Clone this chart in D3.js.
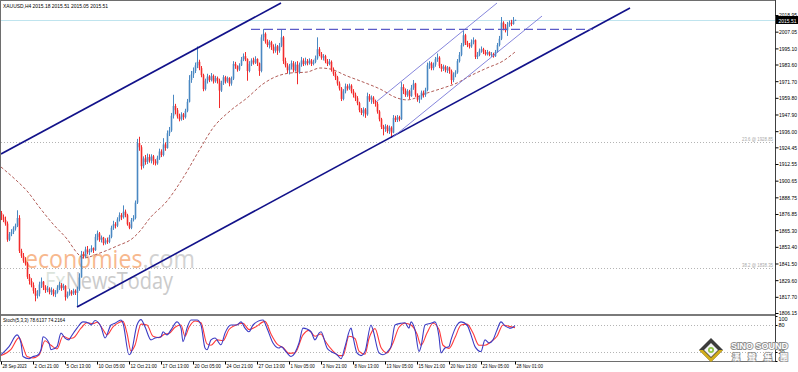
<!DOCTYPE html>
<html lang="en">
<head>
  <meta charset="UTF-8">
  <title>XAUUSD H4</title>
  <style>
    body { margin: 0; background: #fff; }
    svg { display: block; font-family: "DejaVu Sans", sans-serif; }
  </style>
</head>
<body>
<svg width="798" height="372"></svg>
<script src="https://cdn.jsdelivr.net/npm/d3@7"></script>
<script>
  // H4 candles, 28 Sep 2023 05:00 .. 28 Nov 2023 01:00 (open = previous close)
  var firstOpen = 1877.5;
  var closes = [
    1874.8,1872.6,1870.0,1858.5,1862.5,1864.0,1866.5,1868.5,1874.0,1850.5,
    1847.0,1843.5,1841.5,1832.0,1829.0,1826.0,1822.0,1818.5,1820.0,1826.5,
    1828.5,1824.5,1822.5,1823.5,1821.0,1822.5,1819.5,1821.0,1823.5,1826.0,
    1824.0,1825.5,1817.5,1819.5,1821.5,1820.0,1822.0,1820.5,1823.5,1831.5,
    1848.0,1846.5,1851.5,1849.5,1850.5,1852.5,1851.0,1860.5,1863.0,1858.5,
    1860.0,1856.0,1858.0,1857.0,1860.5,1867.0,1869.5,1868.5,1873.0,1876.0,
    1874.5,1878.5,1876.0,1869.5,1867.0,1872.5,1874.0,1885.0,1927.5,1924.5,
    1911.0,1916.5,1914.0,1917.5,1915.0,1918.0,1914.5,1913.0,1917.0,1921.5,
    1919.0,1926.5,1924.0,1934.5,1936.5,1947.0,1954.0,1951.0,1946.5,1944.5,
    1948.0,1946.0,1950.5,1957.0,1972.5,1976.5,1979.0,1983.0,1985.5,1981.0,
    1976.0,1966.0,1972.0,1975.0,1972.5,1975.5,1971.5,1974.0,1972.0,1965.0,
    1970.5,1974.5,1971.5,1974.0,1970.0,1973.5,1984.0,1982.5,1980.0,1983.0,
    1987.0,1989.5,1987.5,1979.0,1984.0,1986.5,1985.0,1987.5,1984.5,1979.0,
    2003.0,2005.5,2000.0,1997.5,1999.5,1996.0,1993.5,1996.5,1993.5,1997.0,
    2003.0,1986.0,1983.0,1979.5,1982.0,1984.5,1979.5,1983.5,1978.0,1983.5,
    1986.5,1984.0,1986.0,1984.5,1986.5,1984.0,1985.5,1988.0,1994.5,1991.0,
    1988.5,1989.5,1986.0,1984.0,1985.5,1980.0,1977.0,1974.5,1970.0,1966.5,
    1959.0,1964.5,1968.0,1966.5,1968.5,1964.5,1962.0,1959.5,1956.0,1951.0,
    1949.0,1951.5,1948.0,1961.0,1958.5,1960.0,1957.0,1955.5,1950.0,1944.5,
    1939.0,1937.5,1939.5,1936.0,1938.5,1935.0,1945.5,1944.0,1946.0,1944.5,
    1967.5,1965.0,1962.0,1964.5,1961.0,1967.0,1970.0,1962.0,1958.5,1960.0,
    1963.5,1962.0,1965.5,1983.0,1984.5,1981.0,1983.5,1987.5,1988.5,1982.5,
    1980.5,1982.0,1979.5,1981.5,1979.0,1972.5,1976.5,1978.0,1986.0,1990.5,
    1997.5,2004.5,1999.0,1997.5,1996.5,1999.5,2001.0,1989.0,1990.5,1993.5,
    1994.5,1992.5,1991.0,1992.5,1990.5,1991.0,1989.5,1992.5,1997.5,2002.0,
    2013.5,2010.0,2008.0,2012.0,2013.5,2012.5,2015.18,2015.51
  ];
  var highs = [
    1879.0,1876.5,1875.0,1871.5,1864.0,1866.0,1868.0,1870.0,1879.5,1876.0,
    1852.0,1849.0,1846.0,1842.5,1834.0,1831.0,1828.0,1824.0,1822.5,1828.5,
    1831.5,1829.0,1826.0,1825.5,1824.5,1824.5,1823.5,1822.5,1826.0,1828.5,
    1827.5,1827.0,1826.0,1821.5,1823.5,1822.5,1823.5,1823.0,1825.0,1834.5,
    1850.5,1850.0,1853.5,1854.0,1852.0,1854.5,1853.0,1862.5,1865.0,1864.0,
    1861.5,1860.5,1859.5,1860.0,1862.0,1868.5,1872.0,1871.0,1874.5,1878.0,
    1877.5,1883.0,1880.0,1877.0,1871.0,1874.0,1876.0,1886.5,1930.5,1932.0,
    1926.0,1918.0,1919.0,1920.0,1919.5,1919.5,1919.0,1916.0,1918.5,1923.5,
    1923.0,1931.0,1928.0,1936.5,1939.0,1949.0,1962.0,1955.5,1952.5,1948.5,
    1949.5,1949.0,1952.0,1959.0,1976.0,1979.0,1981.5,1985.0,1996.5,1987.0,
    1982.5,1977.0,1973.5,1977.0,1976.0,1977.5,1976.5,1975.5,1975.0,1973.5,
    1972.0,1976.0,1975.5,1975.0,1974.5,1975.0,1986.0,1985.5,1983.0,1984.5,
    1989.0,1991.5,1992.5,1988.0,1986.0,1988.0,1988.5,1989.5,1988.0,1985.0,
    2005.0,2009.0,2006.5,2001.5,2001.0,2000.5,1998.0,1998.5,1997.5,1999.0,
    2008.5,2004.0,1988.5,1984.5,1984.0,1986.5,1986.0,1985.5,1986.0,1985.0,
    1989.0,1988.0,1988.5,1987.5,1988.0,1987.5,1987.0,1990.0,2003.0,1996.0,
    1992.5,1991.0,1990.5,1987.5,1987.5,1986.5,1981.5,1978.5,1975.5,1971.5,
    1967.5,1966.0,1970.0,1969.5,1970.0,1969.5,1966.0,1963.5,1961.0,1957.0,
    1952.5,1953.0,1952.5,1963.5,1962.5,1961.5,1961.0,1958.5,1957.0,1951.0,
    1945.5,1940.5,1941.0,1940.5,1940.0,1939.5,1947.5,1947.0,1947.5,1947.0,
    1971.0,1969.5,1966.5,1966.0,1965.5,1969.0,1972.5,1970.5,1963.0,1961.5,
    1965.0,1965.0,1967.0,1985.0,1986.0,1985.5,1985.0,1989.0,1991.5,1989.5,
    1984.0,1983.5,1983.0,1982.5,1982.0,1980.0,1978.0,1979.5,1987.5,1992.5,
    1999.0,2007.5,2005.5,2000.5,1999.0,2001.5,2003.0,2001.5,1992.5,1995.0,
    1996.5,1995.5,1994.0,1994.0,1993.0,1992.5,1992.0,1994.0,1999.0,2004.0,
    2017.5,2014.5,2012.5,2014.0,2015.0,2015.5,2017.5,2015.51
  ];
  var lows = [
    1872.5,1871.0,1868.5,1857.0,1857.5,1861.0,1862.5,1865.0,1867.5,1849.0,
    1845.5,1842.0,1840.0,1830.5,1826.5,1824.5,1820.0,1814.5,1816.5,1818.0,
    1824.0,1822.5,1820.5,1821.0,1819.5,1819.0,1818.0,1817.5,1820.0,1822.5,
    1822.0,1822.5,1815.0,1816.5,1818.5,1818.5,1819.0,1819.0,1810.8,1822.0,
    1843.0,1845.0,1845.5,1848.0,1847.5,1849.5,1849.0,1850.5,1858.0,1857.0,
    1856.5,1854.5,1855.0,1855.5,1856.0,1859.5,1865.5,1866.5,1867.5,1871.5,
    1872.5,1873.5,1874.5,1868.5,1866.0,1866.0,1871.5,1873.0,1884.0,1922.0,
    1908.5,1909.5,1912.0,1912.5,1913.5,1913.0,1912.0,1911.5,1912.0,1915.5,
    1917.5,1918.0,1922.0,1923.5,1932.5,1935.5,1945.0,1948.0,1945.0,1943.0,
    1943.5,1944.0,1945.0,1949.5,1956.5,1970.5,1974.0,1977.5,1981.0,1979.5,
    1974.5,1964.5,1965.0,1970.0,1971.0,1971.5,1970.0,1970.5,1970.0,1952.5,
    1964.0,1969.0,1970.0,1970.5,1968.0,1968.5,1972.5,1980.5,1978.5,1979.0,
    1982.5,1986.0,1986.0,1972.0,1978.0,1982.5,1983.5,1984.0,1982.5,1975.5,
    1978.0,2000.5,1998.5,1996.0,1995.0,1994.0,1991.5,1992.0,1990.5,1992.0,
    1996.0,1984.0,1981.5,1977.5,1976.5,1980.0,1978.0,1978.5,1969.5,1977.0,
    1982.0,1982.5,1983.0,1983.0,1983.5,1982.5,1983.0,1984.5,1987.0,1989.5,
    1987.0,1986.5,1984.5,1982.5,1983.0,1978.5,1975.5,1972.5,1968.5,1965.0,
    1957.5,1958.0,1963.0,1965.0,1965.5,1963.0,1960.0,1957.5,1954.5,1949.5,
    1947.5,1946.5,1945.5,1947.0,1957.0,1955.5,1955.5,1953.5,1948.5,1943.0,
    1937.5,1933.0,1935.5,1934.5,1934.0,1931.2,1934.5,1942.5,1942.5,1943.0,
    1944.0,1962.5,1960.5,1960.5,1959.0,1960.5,1965.5,1960.5,1957.0,1956.0,
    1958.5,1960.0,1960.5,1964.5,1980.5,1979.5,1979.5,1982.0,1985.5,1981.0,
    1978.5,1979.0,1978.0,1977.5,1977.0,1969.5,1971.0,1974.5,1977.0,1985.0,
    1989.5,1996.5,1997.5,1996.0,1995.0,1995.5,1998.0,1987.5,1987.5,1989.5,
    1992.0,1991.0,1990.0,1990.0,1989.5,1989.0,1988.5,1989.0,1992.0,1996.5,
    2001.0,2008.0,2006.5,2004.0,2010.5,2011.0,2012.0,2015.05
  ];

  // moving average: [bar, price]
  var maPoints = [
    [0,1910.4],[8,1900.4],[13,1893.3],[19.5,1881.1],[26,1869.7],[33,1859.0],
    [38.5,1848.3],[41,1845.4],[49.5,1849.0],[58,1854.0],[66,1859.7],[69.5,1864.7],
    [74.5,1874.0],[83,1886.1],[91,1902.6],[99.5,1923.3],[106,1938.3],[114.5,1950.4],
    [123,1959.7],[131,1969.7],[136,1974.0],[144.5,1977.5],[153,1978.2],[159.5,1981.1],
    [164.5,1980.4],[173,1975.4],[181,1971.1],[189.5,1966.1],[198,1959.7],[203,1958.3],
    [213,1963.2],[221,1966.8],[228,1970.4],[234.5,1975.4],[243,1981.1],[251,1986.1],
    [257,1992.5]
  ];

  // Stoch(5,3,3) main (%K) and signal (%D): [bar, value]
  var stochK = [
    [0,14],[4,32],[8,58],[10,40],[11,10],[14,5],[16,10],[18,12],[20,25],[21,54],
    [24,40],[25,25],[28,32],[30,62],[32,51],[34,47],[35,54],[38,73],[41,87],[44,84],
    [45,80],[47,90],[50,76],[52,51],[55,80],[57,84],[60,91],[61,84],[64,14],[65,18],
    [68,80],[70,92],[72,76],[75,47],[77,51],[80,54],[81,65],[83,58],[85,69],[88,87],
    [90,73],[91,43],[93,73],[95,91],[98,91],[100,80],[102,29],[103,25],[105,47],[107,51],
    [110,36],[112,62],[115,80],[118,80],[120,87],[122,73],[124,65],[126,80],[131,91],[133,73],
    [136,40],[139,29],[140,32],[143,18],[145,10],[149,40],[151,73],[155,65],[157,47],[159,62],
    [160,65],[163,29],[165,21],[168,14],[170,5],[172,32],[175,73],[176,54],[178,18],[180,12],
    [182,21],[185,80],[186,69],[189,18],[191,14],[194,25],[195,32],[197,80],[200,84],[202,85],
    [204,73],[205,87],[207,69],[209,21],[210,32],[212,80],[215,84],[217,87],[219,54],[220,18],
    [222,29],[224,32],[225,47],[228,80],[230,87],[233,80],[235,58],[237,32],[240,21],[242,47],
    [244,40],[246,47],[248,69],[250,87],[252,78],[255,73],[257,78.6]
  ];
  var stochD = [
    [0,12],[5,26],[9,52],[11,32],[13,10],[16,7],[19,13],[22,45],[25,35],[28,27],
    [31,55],[34,50],[36,51],[40,73],[43,85],[46,83],[48,86],[51,70],[53,58],[56,76],
    [58,83],[61,88],[63,62],[65,22],[67,35],[70,82],[73,80],[76,55],[79,52],[82,60],
    [84,61],[87,75],[90,80],[92,55],[94,75],[97,89],[100,85],[103,38],[105,35],[108,47],
    [111,45],[114,70],[117,79],[121,84],[124,70],[127,75],[132,88],[135,60],[138,38],[141,30],
    [144,17],[147,18],[151,58],[154,68],[157,55],[160,60],[162,45],[166,22],[169,12],[171,12],
    [174,55],[177,50],[179,22],[182,15],[184,50],[187,72],[190,30],[193,18],[196,40],[199,75],
    [202,84],[205,80],[208,60],[210,35],[213,62],[216,84],[219,70],[221,35],[224,28],[227,52],
    [230,80],[233,82],[236,62],[239,35],[242,35],[245,43],[248,55],[251,80],[254,77],[257,74.2]
  ];

  var priceTicks = [2018.95,2007.05,1995.10,1983.60,1971.70,1959.80,1947.90,1936.00,1924.45,1912.55,
    1900.65,1888.75,1876.85,1865.30,1853.40,1841.50,1829.60,1817.70,1806.15];
  var timeBars = [0,16,32,48,64,80,96,112,128,144,160,176,192,208,224,240,257];
  var timeLabels = ["28 Sep 2023","2 Oct 21:00","5 Oct 13:00","10 Oct 05:00","12 Oct 21:00","17 Oct 13:00",
    "20 Oct 05:00","24 Oct 21:00","27 Oct 13:00","1 Nov 05:00","3 Nov 21:00","8 Nov 13:00",
    "13 Nov 05:00","15 Nov 21:00","20 Nov 13:00","23 Nov 05:00","28 Nov 01:00"];
  var stochTicks = [100, 80, 20, 0];

  // drawn objects: [bar1, price1, bar2, price2]
  var bigChannel = [[0,1919.7,140,2027.5],[38,1810.4,314.5,2023.9]];
  var smallChannel = [[187.5,1956.8,248,2027.5],[196,1931.8,270.5,2018.2]];
  var resistance = [125, 296, 2008.7];
  var fibLevels = [[1928.6,"23.6 @ 1928.85"],[1838.3,"38.2 @ 1838.35"]];
  var bid = 2015.51;

  var svg = d3.select('svg');
  var x = d3.scaleLinear().domain([0, 387]).range([1, 775]);
  var y = d3.scaleLinear().domain([1806.15, 2018.95]).range([313, 15]);
  var ys = d3.scaleLinear().domain([0, 100]).range([361, 316]);
  var axisFont = 'Liberation Sans, sans-serif';

  svg.append('clipPath').attr('id', 'main').append('rect')
    .attr('x', 1).attr('y', 1).attr('width', 774).attr('height', 313);
  svg.append('clipPath').attr('id', 'sub').append('rect')
    .attr('x', 1).attr('y', 316).attr('width', 774).attr('height', 45);

  var main = svg.append('g').attr('clip-path', 'url(#main)');

  // watermark
  main.append('text').attr('x', 25).attr('y', 268)
    .attr('font-family', 'Open Sans, sans-serif').attr('font-size', 25)
    .attr('textLength', 170).attr('lengthAdjust', 'spacingAndGlyphs')
    .selectAll('tspan').data([['economies', '#f7b88e'], ['.com', '#d2d2d2']]).join('tspan')
    .attr('fill', d => d[1]).text(d => d[0]);
  main.append('text').attr('x', 45).attr('y', 289)
    .attr('font-family', 'Open Sans, sans-serif').attr('font-size', 23)
    .attr('textLength', 128).attr('lengthAdjust', 'spacingAndGlyphs')
    .selectAll('tspan').data([['Fx', '#dce4dc'], ['NewsToday', '#cbcbcb']]).join('tspan')
    .attr('fill', d => d[1]).text(d => d[0]);

  // bid line and fib levels
  main.append('line').attr('x1', 1).attr('x2', 775)
    .attr('y1', Math.round(y(bid)) + 0.5).attr('y2', Math.round(y(bid)) + 0.5)
    .attr('stroke', '#bfe4ee');
  fibLevels.forEach(f => {
    var yy = Math.round(y(f[0])) + 0.5;
    main.append('line').attr('x1', 1).attr('x2', 775).attr('y1', yy).attr('y2', yy)
      .attr('stroke', '#b4b4b4').attr('stroke-dasharray', '1,2');
    main.append('text').attr('x', 773).attr('y', yy - 2).attr('text-anchor', 'end')
      .attr('font-size', 6).attr('fill', '#a8a8a8').attr('font-family', axisFont)
      .attr('textLength', 31).attr('lengthAdjust', 'spacingAndGlyphs').text(f[1]);
  });

  // moving average
  var line = d3.line().x(d => x(d[0])).y(d => y(d[1])).curve(d3.curveMonotoneX);
  main.append('path').attr('d', line(maPoints))
    .attr('fill', 'none').attr('stroke', '#a84a44').attr('stroke-width', 0.9)
    .attr('stroke-dasharray', '3,2');

  // candles
  var bars = closes.map((c, i) => {
    var o = i ? closes[i - 1] : firstOpen;
    return { i: i, o: o, c: c, h: Math.max(highs[i], o, c), l: Math.min(lows[i], o, c) };
  });
  var candle = main.append('g').selectAll('g').data(bars).join('g')
    .attr('stroke', d => d.c >= d.o ? '#4a88c2' : '#f22b2b')
    .attr('fill', d => d.c >= d.o ? '#4a88c2' : '#f22b2b');
  candle.append('line')
    .attr('x1', d => Math.round(x(d.i)) + 0.5).attr('x2', d => Math.round(x(d.i)) + 0.5)
    .attr('y1', d => y(d.h)).attr('y2', d => y(d.l)).attr('stroke-width', 1);
  candle.append('rect').attr('stroke', 'none')
    .attr('x', d => Math.round(x(d.i)) - 0.3).attr('width', 1.6)
    .attr('y', d => y(Math.max(d.o, d.c)))
    .attr('height', d => Math.max(1, y(Math.min(d.o, d.c)) - y(Math.max(d.o, d.c))));

  // trend lines
  var seg = (g, l) => g.append('line')
    .attr('x1', x(l[0])).attr('y1', y(l[1])).attr('x2', x(l[2])).attr('y2', y(l[3]));
  bigChannel.forEach(l => seg(main, l).attr('stroke', '#12128a').attr('stroke-width', 1.6));
  smallChannel.forEach(l => seg(main, l).attr('stroke', '#7878d8').attr('stroke-width', 0.9));
  main.append('line').attr('x1', x(resistance[0])).attr('x2', x(resistance[1]))
    .attr('y1', y(resistance[2])).attr('y2', y(resistance[2]))
    .attr('stroke', '#5c5cc8').attr('stroke-width', 1.1).attr('stroke-dasharray', '9,4');

  // header
  svg.append('text').attr('x', 3).attr('y', 8).attr('font-size', 6).attr('fill', '#000')
    .attr('font-family', axisFont).attr('textLength', 105).attr('lengthAdjust', 'spacingAndGlyphs')
    .text('XAUUSD,H4  2015.18 2015.51 2015.05 2015.51');

  // stochastic panel
  var sub = svg.append('g').attr('clip-path', 'url(#sub)');
  [80, 20].forEach(v => sub.append('line').attr('x1', 1).attr('x2', 775)
    .attr('y1', Math.round(ys(v)) + 0.5).attr('y2', Math.round(ys(v)) + 0.5)
    .attr('stroke', '#b4b4b4').attr('stroke-dasharray', '1,2'));
  var sline = d3.line().x(d => x(d[0])).y(d => ys(d[1])).curve(d3.curveMonotoneX);
  sub.append('path').attr('d', sline(stochD)).attr('fill', 'none')
    .attr('stroke', '#ff3a3a').attr('stroke-width', 1.1);
  sub.append('path').attr('d', sline(stochK)).attr('fill', 'none')
    .attr('stroke', '#3c3cc4').attr('stroke-width', 1.1);
  svg.append('text').attr('x', 3).attr('y', 322).attr('font-size', 6).attr('fill', '#000')
    .attr('font-family', axisFont).attr('textLength', 62).attr('lengthAdjust', 'spacingAndGlyphs')
    .text('Stoch(5,3,3) 78.6137 74.2164');

  // frame
  svg.append('rect').attr('x', 0.5).attr('y', 0.5).attr('width', 775).attr('height', 361)
    .attr('fill', 'none').attr('stroke', '#6e6e6e');
  svg.append('rect').attr('x', 1).attr('y', 314).attr('width', 775).attr('height', 2).attr('fill', '#7a7a7a');
  svg.append('line').attr('x1', 775.5).attr('x2', 775.5).attr('y1', 0).attr('y2', 362).attr('stroke', '#404040');

  // price axis
  var yAxis = d3.axisRight(y).tickValues(priceTicks).tickSize(3).tickFormat(d3.format('.2f'));
  var ya = svg.append('g').attr('transform', 'translate(775.5,0)').call(yAxis);
  ya.select('.domain').remove();
  ya.selectAll('text').attr('font-size', 6).attr('x', 3.5).attr('font-family', axisFont)
    .attr('textLength', 18).attr('lengthAdjust', 'spacingAndGlyphs');

  var bg = svg.append('g').attr('transform', 'translate(776,' + Math.round(y(bid)) + ')');
  bg.append('rect').attr('x', 0).attr('y', -4).attr('width', 22).attr('height', 8).attr('fill', '#000');
  bg.append('text').attr('x', 2.5).attr('y', 2.5).attr('font-size', 6).attr('fill', '#fff')
    .attr('font-family', axisFont).attr('textLength', 18).attr('lengthAdjust', 'spacingAndGlyphs')
    .text(bid.toFixed(2));

  var sAxis = d3.axisRight(ys).tickValues(stochTicks).tickSize(2).tickFormat(d3.format('d'));
  var sa = svg.append('g').attr('transform', 'translate(775.5,0)').call(sAxis);
  sa.select('.domain').remove();
  sa.selectAll('text').attr('font-size', 5.5).attr('x', 3).attr('font-family', axisFont)
    .attr('dy', d => d === 100 ? '0.85em' : d === 0 ? '-0.05em' : '0.32em');

  // time axis
  var xAxis = d3.axisBottom(x).tickValues(timeBars).tickSize(3)
    .tickFormat((d, k) => timeLabels[k]);
  var xa = svg.append('g').attr('transform', 'translate(0,361.5)').call(xAxis);
  xa.select('.domain').remove();
  xa.selectAll('text').attr('font-size', 6).attr('text-anchor', 'start').attr('x', 1).attr('y', 2.5)
    .attr('dy', '0.71em').attr('font-family', axisFont)
    .attr('textLength', (d, k) => timeLabels[k].length * 2.2).attr('lengthAdjust', 'spacingAndGlyphs');

  // logo
  var logo = svg.append('g').attr('transform', 'translate(711,350)');
  logo.append('path').attr('d', 'M0,-12L12,0L0,12L-12,0Z').attr('fill', '#3c3c3c');
  logo.append('path').attr('d', 'M-12,0L0,12L12,0L8,0L0,8L-8,0Z').attr('fill', '#d2ad1c');
  logo.append('path').attr('d', 'M0,-7L7,0L0,7L-7,0Z').attr('fill', '#f4f4f4');
  logo.append('circle').attr('r', 3).attr('fill', '#8cc540');
  logo.append('circle').attr('r', 1.3).attr('fill', '#f4f4f4');
  svg.append('text').attr('x', 731).attr('y', 349).attr('font-size', 9.5).attr('font-weight', 'bold')
    .attr('font-family', axisFont)
    .attr('fill', '#fff').attr('stroke', '#8e8e8e').attr('stroke-width', 1.8).attr('paint-order', 'stroke')
    .attr('textLength', 57).attr('lengthAdjust', 'spacingAndGlyphs').text('SINO SOUND');
  svg.append('text').attr('x', 732).attr('y', 360).attr('font-size', 8).attr('font-weight', 'bold')
    .attr('font-family', 'Noto Sans CJK TC, sans-serif')
    .attr('fill', '#fff').attr('stroke', '#8e8e8e').attr('stroke-width', 1.6).attr('paint-order', 'stroke')
    .attr('textLength', 56).text('漢 聲 集 團');
</script>
</body>
</html>
